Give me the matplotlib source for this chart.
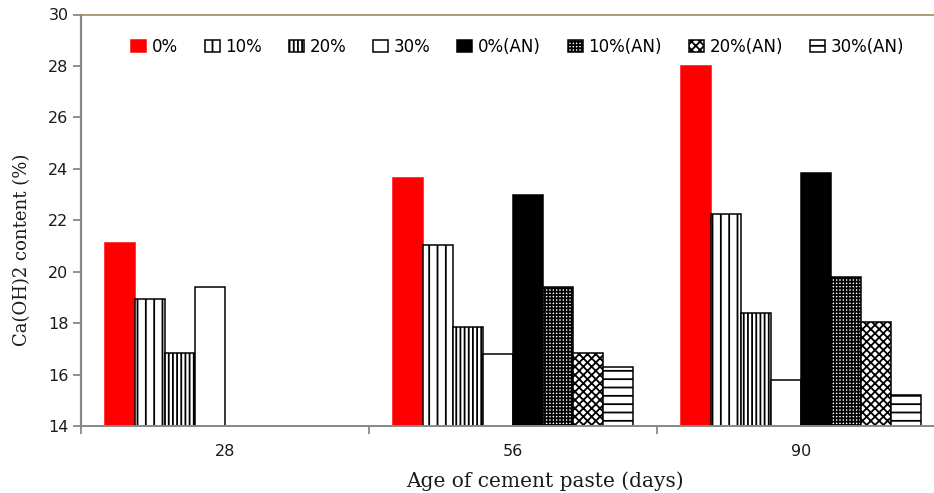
import matplotlib
matplotlib.use('Agg')
import matplotlib.pyplot as plt
from matplotlib.patches import Patch
import numpy as np

ages = ['28', '56', '90']
series_labels = ['0%', '10%', '20%', '30%', '0%(AN)', '10%(AN)', '20%(AN)', '30%(AN)']

vals_0 = [21.1, 23.65, 28.0]
vals_10 = [18.95, 21.05, 22.25]
vals_20 = [16.85, 17.85, 18.4]
vals_30 = [19.4, 16.8, 15.8]
vals_0_an = [np.nan, 23.0, 23.85]
vals_10_an = [np.nan, 19.4, 19.8]
vals_20_an = [np.nan, 16.85, 18.05]
vals_30_an = [np.nan, 16.3, 15.2]

series = [vals_0, vals_10, vals_20, vals_30, vals_0_an, vals_10_an, vals_20_an, vals_30_an]

# face, edge, hatch for each series
styles = [
    ('#ff0000', '#ff0000', None),
    ('white', 'black', '||'),
    ('white', 'black', '||||'),
    ('white', 'black', None),
    ('black', 'black', None),
    ('white', 'black', '+++++'),
    ('white', 'black', 'xxxx'),
    ('white', 'black', '--'),
]

plt.rcParams['hatch.linewidth'] = 1.3

fig = plt.figure(figsize=(9.34, 4.93), dpi=100)
ax = fig.add_axes([81 / 934, 1 - 426 / 493, 864 / 934, 411.5 / 493])

x = np.arange(len(ages))
width = 30 / 288
handles = []
for i, (vals, (fc, ec, hatch)) in enumerate(zip(series, styles)):
    offs = (i - 3.5) * width
    ax.bar(x + offs, vals, width, color=fc, edgecolor=ec, hatch=hatch,
           linewidth=1.1, zorder=2)
    handles.append(Patch(facecolor=fc, edgecolor=ec, hatch=hatch, linewidth=1.1,
                         label=series_labels[i]))

ax.set_xlim(-0.5, 2.5)
ax.set_ylim(14, 30)
ax.set_yticks(np.arange(14, 31, 2))

# category boundaries get the ticks, labels sit in the middle
ax.set_xticks([-0.5, 0.5, 1.5, 2.5])
ax.set_xticklabels([])
ax.set_xticks(x, minor=True)
ax.set_xticklabels(ages, minor=True)
ax.tick_params(axis='x', which='minor', length=0, pad=13)
ax.tick_params(axis='x', which='major', length=6, width=1.3, color='#888888')
ax.tick_params(axis='y', length=6, width=1.3, color='#888888', pad=3)
for lab in ax.get_xticklabels(minor=True) + ax.get_yticklabels():
    lab.set_fontsize(11.5)
    lab.set_color('#1a1a1a')

ax.spines['left'].set_color('#888888')
ax.spines['left'].set_linewidth(1.6)
ax.spines['bottom'].set_color('#888888')
ax.spines['bottom'].set_linewidth(1.4)
ax.spines['top'].set_color('#9c8f5e')
ax.spines['top'].set_linewidth(1.2)
ax.spines['right'].set_visible(False)

fig.text(22 / 934, 1 - 250 / 493, 'Ca(OH)2 content (%)', rotation=90,
         ha='center', va='center', fontsize=13, family='DejaVu Serif', color='#1a1a1a')
fig.text(545 / 934, 1 - 481 / 493, 'Age of cement paste (days)',
         ha='center', va='center', fontsize=14.5, family='DejaVu Serif', color='#1a1a1a')

ax.legend(handles=handles, ncol=8, loc='center left',
          bbox_to_anchor=(50 / 864, (426 - 47) / 411.5), frameon=False,
          fontsize=12, handlelength=0.9, handleheight=0.72, handletextpad=0.35,
          columnspacing=1.6, borderpad=0, borderaxespad=0)

fig.savefig('out.png', dpi=100)
